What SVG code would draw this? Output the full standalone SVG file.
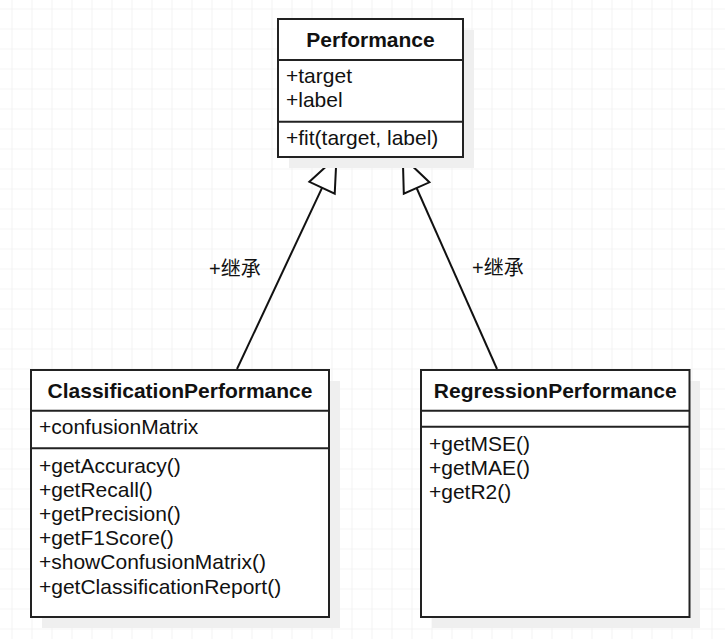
<svg xmlns="http://www.w3.org/2000/svg" width="725" height="639" viewBox="0 0 725 639">
<defs>
<pattern id="grid" x="11.5" y="8.5" width="20" height="20" patternUnits="userSpaceOnUse">
<path d="M0,0 H20 M0,0 V20" fill="none" stroke="#ebebeb" stroke-width="1.2"/>
</pattern>
<marker id="inherit" markerUnits="userSpaceOnUse" markerWidth="40" markerHeight="32" viewBox="-36 -16 40 32" refX="-34" refY="0" orient="auto">
<path d="M0,0 L-34,-14 L-34,14 Z" fill="#ffffff" stroke="#111111" stroke-width="2" stroke-linejoin="miter"/>
</marker>
<style>
.box{fill:#ffffff;stroke:#222222;stroke-width:2}
.shadow{fill:#efefef;stroke:none}
.div{stroke:#222222;stroke-width:2}
.title{font-family:"Liberation Sans",Arial,sans-serif;font-size:21px;font-weight:bold;fill:#111111;text-anchor:middle}
.item{font-family:"Liberation Sans",Arial,sans-serif;font-size:21px;fill:#111111}
.lbl{font-family:"Liberation Sans","Noto Sans CJK SC",sans-serif;font-size:20px;fill:#111111}
.conn{fill:none;stroke:#111111;stroke-width:2}
</style>
</defs>
<rect width="725" height="639" fill="#ffffff"/>
<rect width="725" height="639" fill="url(#grid)"/>

<g id="connectors">
<path class="conn" d="M237,369 L322.05,187.8" marker-end="url(#inherit)"/>
<path class="conn" d="M497,369 L416.6,188" marker-end="url(#inherit)"/>
<text class="lbl" x="209" y="276">+继承</text>
<text class="lbl" x="472" y="275">+继承</text>
</g>

<g id="Performance">
<rect class="shadow" x="289" y="30" width="185" height="138"/>
<rect class="box" x="278" y="19" width="185" height="138"/>
<line class="div" x1="278" y1="60" x2="463" y2="60"/>
<line class="div" x1="278" y1="121.7" x2="463" y2="121.7"/>
<text class="title" x="370.5" y="47">Performance</text>
<text class="item" x="286" y="83">+target</text>
<text class="item" x="286" y="107">+label</text>
<text class="item" x="286" y="145">+fit(target, label)</text>
</g>

<g id="ClassificationPerformance">
<rect class="shadow" x="42" y="381" width="298" height="247"/>
<rect class="box" x="31" y="370" width="298" height="247"/>
<line class="div" x1="31" y1="410.7" x2="329" y2="410.7"/>
<line class="div" x1="31" y1="448.3" x2="329" y2="448.3"/>
<text class="title" x="180" y="397.5">ClassificationPerformance</text>
<text class="item" x="39" y="434">+confusionMatrix</text>
<text class="item" x="39" y="472.5">+getAccuracy()</text>
<text class="item" x="39" y="496.7">+getRecall()</text>
<text class="item" x="39" y="520.9">+getPrecision()</text>
<text class="item" x="39" y="545.1">+getF1Score()</text>
<text class="item" x="39" y="569.3">+showConfusionMatrix()</text>
<text class="item" x="39" y="593.5">+getClassificationReport()</text>
</g>

<g id="RegressionPerformance">
<rect class="shadow" x="432" y="381" width="268" height="247"/>
<rect class="box" x="421" y="370" width="268.5" height="247"/>
<line class="div" x1="421" y1="410.7" x2="689.5" y2="410.7"/>
<line class="div" x1="421" y1="426.7" x2="689.5" y2="426.7"/>
<text class="title" x="555.2" y="397.5">RegressionPerformance</text>
<text class="item" x="429" y="451">+getMSE()</text>
<text class="item" x="429" y="475">+getMAE()</text>
<text class="item" x="429" y="499">+getR2()</text>
</g>
</svg>
